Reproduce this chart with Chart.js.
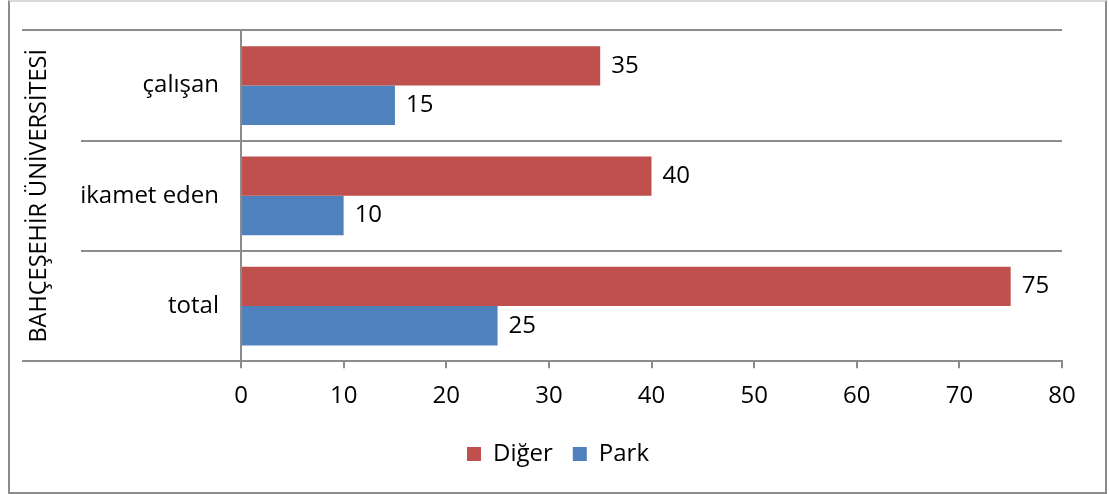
<!DOCTYPE html>
<html>
<head>
<meta charset="utf-8">
<script src="https://cdn.jsdelivr.net/npm/chart.js@4"></script>
<style>
  body { margin: 0; background: #fff; }
  #wrap { position: relative; width: 1109px; height: 494px; }
  #frame { position: absolute; left: 8px; top: 0px; width: 1095px; height: 490px; border: 2px solid #8c8c8c; border-top-color: #d9d9d9; pointer-events: none; }
</style>
</head>
<body>
<div id="wrap">
  <canvas id="chart"></canvas>
  <div id="frame"></div>
</div>
<script>
const categories = ['çalışan', 'ikamet eden', 'total']
const groupTitle = 'BAHÇEŞEHİR ÜNİVERSİTESİ'
const diger = [35, 40, 75]
const park = [15, 10, 25]
const xTicks = [0, 10, 20, 30, 40, 50, 60, 70, 80]

const font = "'Open Sans', 'Noto Sans', sans-serif"
const gridColor = '#8c8c8c'

// left extension of the category boundary lines (multi-level axis look)
const sideLines = {
  id: 'sideLines',
  afterDraw(chart) {
    const y = chart.scales.y
    const c = chart.ctx
    const n = categories.length
    const half = (y.getPixelForValue(1) - y.getPixelForValue(0)) / 2
    c.save()
    c.strokeStyle = gridColor
    c.lineWidth = 2
    for (let i = 0; i <= n; i++) {
      const py = i < n ? y.getPixelForValue(i) - half : y.getPixelForValue(n - 1) + half
      const startX = (i === 0 || i === n) ? 22 : 81
      c.beginPath()
      c.moveTo(startX, Math.round(py))
      c.lineTo(chart.chartArea.left, Math.round(py))
      c.stroke()
    }
    c.restore()
  }
}

// value labels at the end of each bar
const valueLabels = {
  id: 'valueLabels',
  afterDatasetsDraw(chart) {
    const c = chart.ctx
    c.save()
    c.font = '24px ' + font
    c.fillStyle = '#000'
    c.textAlign = 'left'
    c.textBaseline = 'middle'
    chart.data.datasets.forEach((ds, di) => {
      chart.getDatasetMeta(di).data.forEach((bar, i) => {
        c.fillText(ds.data[i], bar.x + 11, bar.y)
      })
    })
    c.restore()
  }
}

// legend sits a bit right of the canvas centre in the original
const legendShift = {
  id: 'legendShift',
  afterLayout(chart) {
    chart.legend.left += 27
    chart.legend.right += 27
  }
}

new Chart(document.getElementById('chart'), {
  type: 'bar',
  data: {
    labels: categories,
    datasets: [
      { label: 'Diğer', data: diger, backgroundColor: '#C0504D' },
      { label: 'Park', data: park, backgroundColor: '#4F81BD' }
    ]
  },
  options: {
    indexAxis: 'y',
    responsive: true,
    maintainAspectRatio: false,
    animation: false,
    datasets: { bar: { categoryPercentage: 0.714, barPercentage: 1 } },
    layout: { padding: { top: 28, right: 47, left: 0, bottom: 18 } },
    plugins: {
      legend: {
        position: 'bottom',
        labels: { boxWidth: 14, boxHeight: 14, padding: 20, color: '#000', font: { family: font, size: 24 } }
      },
      tooltip: { enabled: false }
    },
    scales: {
      x: {
        min: 0,
        max: 80,
        afterBuildTicks(s) { s.ticks = xTicks.map(v => ({ value: v })) },
        afterFit(s) { s.height -= 3 },
        grid: { drawOnChartArea: false, drawTicks: true, tickLength: 7, color: gridColor, lineWidth: 2 },
        border: { color: gridColor, width: 2 },
        ticks: { padding: 14, color: '#000', font: { family: font, size: 24 } }
      },
      y: {
        afterFit(s) { s.width = 241 },
        grid: { offset: true, color: gridColor, lineWidth: 2, drawTicks: true, tickLength: 6 },
        border: { color: gridColor, width: 2 },
        ticks: { padding: 16, color: '#000', font: { family: font, size: 24 } },
        title: { display: true, text: groupTitle, color: '#000', padding: { top: 25, bottom: 0 }, font: { family: font, size: 23.5 } }
      }
    }
  },
  plugins: [sideLines, valueLabels, legendShift]
});
</script>
</body>
</html>
